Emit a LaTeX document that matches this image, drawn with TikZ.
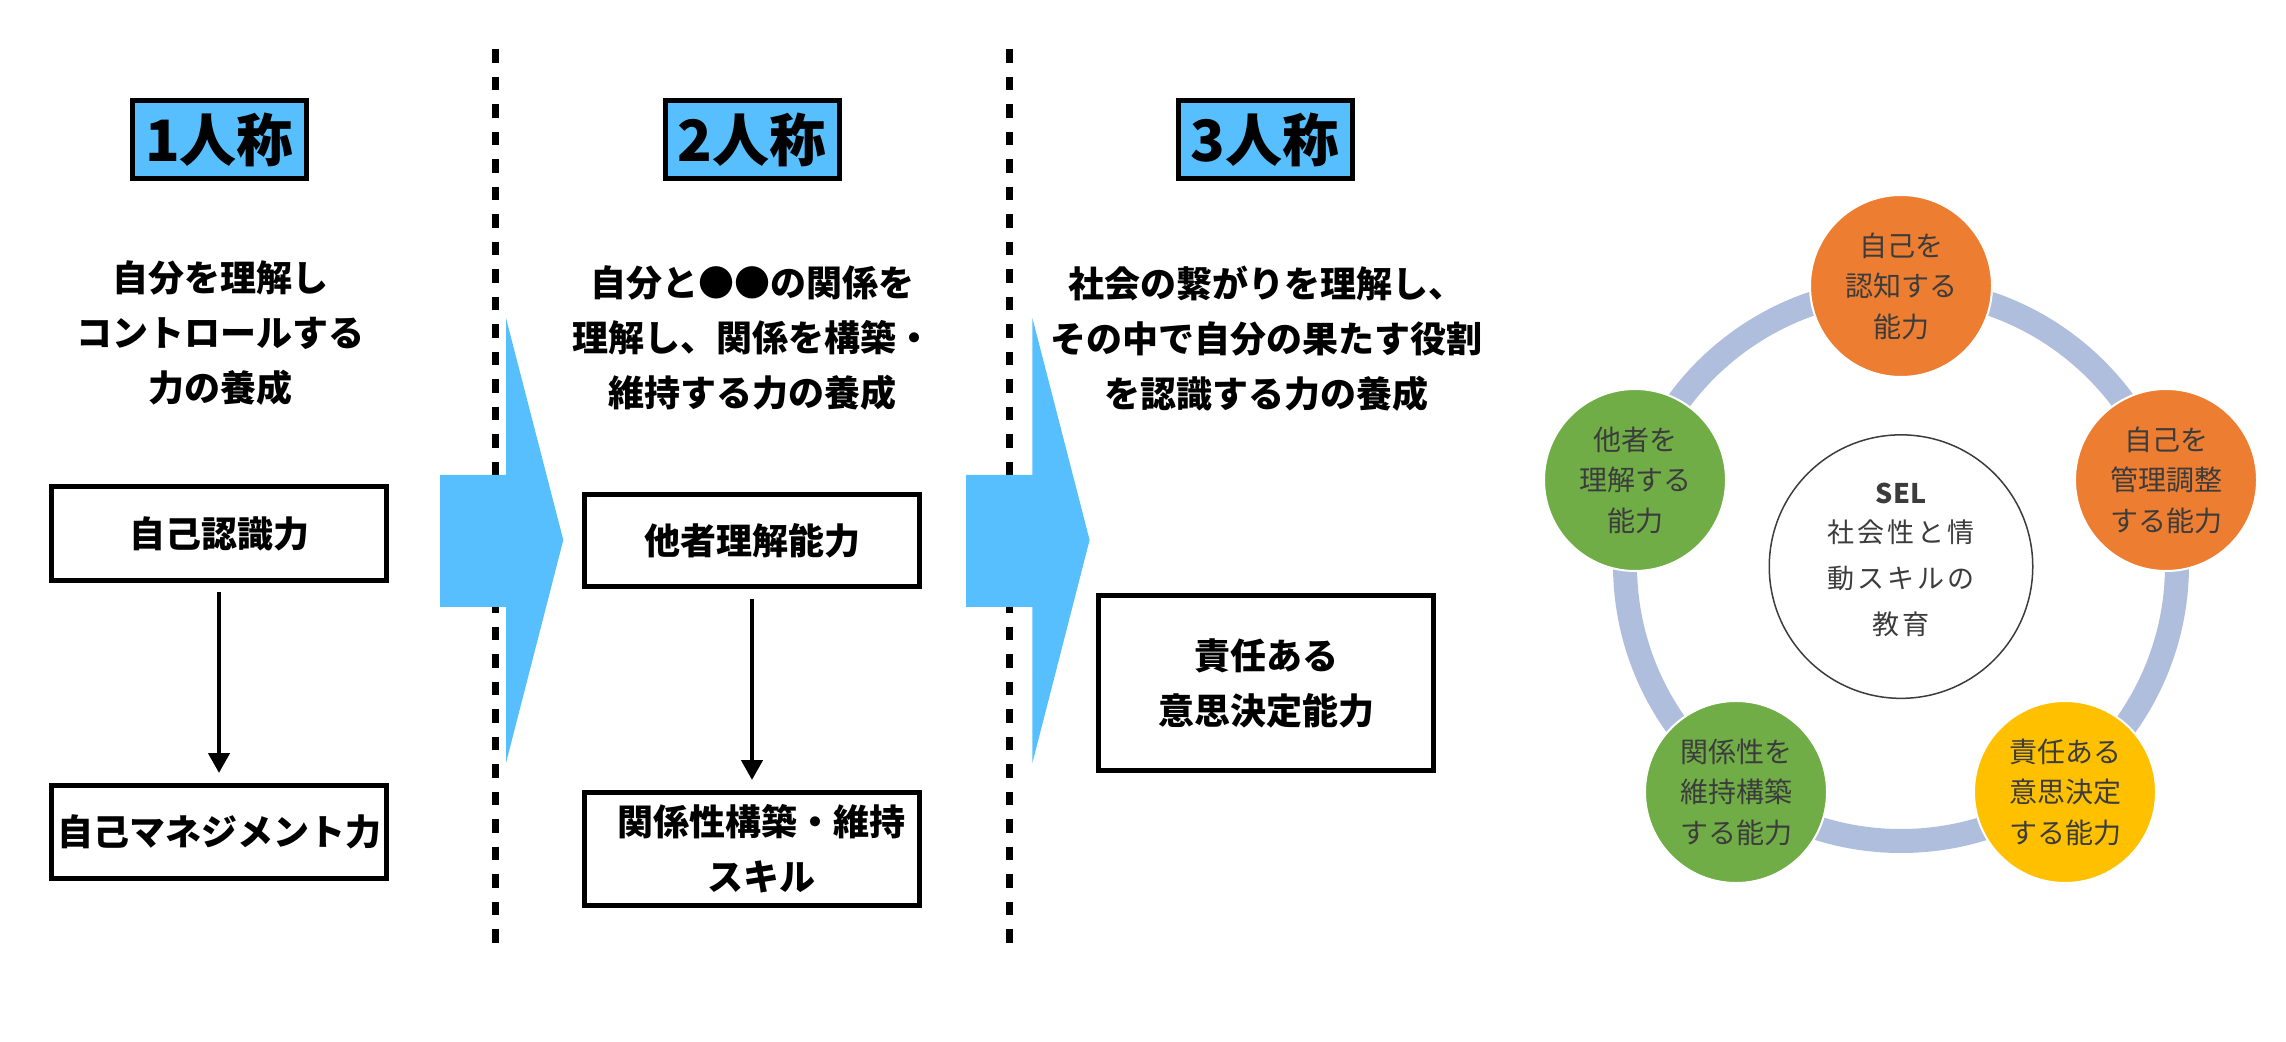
\documentclass[tikz,border=0pt]{standalone}
\usepackage{fontspec}
\setmainfont{Noto Sans CJK JP}
\usetikzlibrary{arrows.meta}
\definecolor{skyb}{RGB}{87,191,253}
\definecolor{ringc}{RGB}{176,190,222}
\definecolor{orng}{RGB}{237,125,49}
\definecolor{yelw}{RGB}{255,192,0}
\definecolor{grn}{RGB}{112,173,71}
\definecolor{dtext}{RGB}{60,60,60}
\newcommand\selsp{\addfontfeature{LetterSpace=12}}
\tikzset{
  titlebox/.style={draw, line width=2.5pt, fill=skyb, minimum width=87pt, minimum height=39pt, inner sep=0pt, font=\bfseries\fontsize{28.5}{30}\selectfont},
  desc/.style={align=center, inner sep=0pt, font=\bfseries\fontsize{18}{27.5}\selectfont},
  skillbox/.style={draw, line width=2.5pt, minimum width=167.5pt, inner sep=0pt, align=center, font=\bfseries\fontsize{18}{27.5}\selectfont},
  flow/.style={line width=2.25pt, -{Triangle[length=10pt,width=10.5pt]}},
  sepline/.style={line width=3.5pt, dash pattern=on 6.7pt off 7.05pt},
  selc/.style={circle, draw=white, line width=1pt, minimum size=91pt, inner sep=0pt, align=center, text=dtext, font=\fontsize{14}{20.25}\selectfont},
}
\begin{document}
\begin{tikzpicture}[x=0.5pt,y=-0.5pt]
\useasboundingbox (0,0) rectangle (2286,1042);
% separators
\coordinate (s1t) at (495.7,49.3); \coordinate (s1b) at (495.7,943);
\coordinate (s2t) at (1009.5,49.3); \coordinate (s2b) at (1009.5,943);
\draw[sepline] (s1t) -- (s1b);
\draw[sepline] (s2t) -- (s2b);
% big blue arrows
\fill[skyb] (440,475) -- (506,475) -- (506,318) -- (563.3,540) -- (506,763) -- (506,607) -- (440,607) -- cycle;
\fill[skyb] (966,475) -- (1032.4,475) -- (1032.4,318) -- (1089.6,540) -- (1032.4,763) -- (1032.4,607) -- (966,607) -- cycle;
% titles
\node[titlebox] (t1) at (219.5,139.5) {1人称};
\node[titlebox] (t2) at (752,139.5) {2人称};
\node[titlebox] (t3) at (1265,139.5) {3人称};
% descriptions
\node[desc] (d1) at (220,333) {自分を理解し\\コントロールする\\力の養成};
\node[desc] (d2) at (752,338.5) {自分と●●の関係を\\理解し、関係を構築・\\維持する力の養成};
\node[desc] (d3) at (1266,338.5) {社会の繋がりを理解し、\\その中で自分の果たす役割\\を認識する力の養成};
% boxes
\node[skillbox, minimum height=47pt] (b1a) at (219,533.5) {自己認識力};
\node[skillbox, minimum height=46.5pt] (b1b) at (219,832) {自己マネジメント力};
\node[skillbox, minimum height=46pt] (b2a) at (752,540.5) {他者理解能力};
\node[skillbox, minimum height=56.5pt] (b2b) at (752,849) {\hspace*{9pt}関係性構築・維持\\\hspace*{9pt}スキル};
\node[skillbox, minimum height=87.5pt] (b3) at (1266,683) {責任ある\\意思決定能力};
\draw[flow, shorten <=4.5pt, shorten >=5pt] (b1a) -- (b1b);
\draw[flow, shorten <=5pt, shorten >=5pt] (b2a) -- (b2b);
% SEL diagram
\coordinate (sc) at (1901,565);
\draw[ringc, line width=12pt] (sc) circle[radius=138pt];
\node[selc, fill=orng] (c1) at (1901,286) {自己を\\認知する\\能力};
\node[selc, fill=orng] (c2) at (2166,480) {自己を\\管理調整\\する能力};
\node[selc, fill=yelw] (c3) at (2065,792) {責任ある\\意思決定\\する能力};
\node[selc, fill=grn] (c4) at (1736,792) {関係性を\\維持構築\\する能力};
\node[selc, fill=grn] (c5) at (1635,480) {他者を\\理解する\\能力};
\node[circle, draw=dtext, line width=0.75pt, fill=white, minimum size=131.75pt, inner sep=0pt] (sel) at (1901,566.6) {};
\node[align=center, inner sep=0pt, text=dtext, font=\fontsize{13.5}{23}\selectfont] (seltext) at (1901,560) {{\bfseries SEL}\\[-3.5pt]{\selsp 社会性と情}\\{\selsp 動スキルの}\\{\selsp 教育}};
\end{tikzpicture}
\end{document}
